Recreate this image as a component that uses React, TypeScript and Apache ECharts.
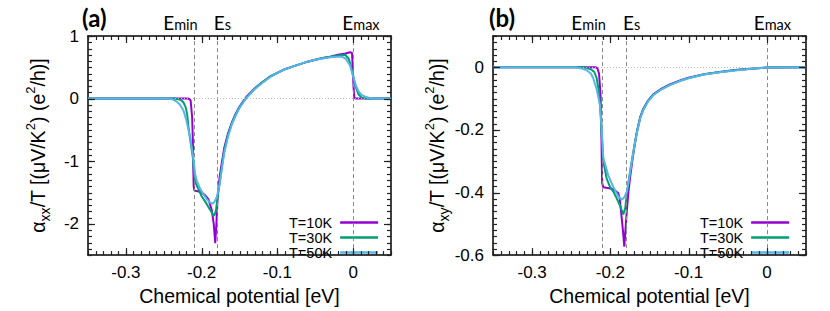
import React, { useEffect, useRef } from "react";
import * as echarts from "echarts";

const legendLabels = ["T=10K", "T=30K", "T=50K"];
const lineColors = ["#9400d3", "#009e73", "#56b4e9"];
const xTickValues = [-0.3, -0.2, -0.1, 0];
const yTickValuesA = [-2, -1, 0, 1];
const yTickValuesB = [-0.6, -0.4, -0.2, 0];
const energySubscripts = ["min", "s", "max"];
const energyLevelsA = [-0.2115, -0.1805, 0.0004];
const energyLevelsB = [-0.212, -0.1805, 0];

// panel (a): alpha_xx / T  [mu (eV), value]
const alphaXX10K: [number, number][] = [
  [-0.35, 0], [-0.2185, 0], [-0.2165, -0.005], [-0.2145, -0.03], [-0.2125, -0.3], [-0.2115, -0.7],
  [-0.211, -1.1], [-0.2105, -1.4], [-0.2095, -1.47], [-0.205, -1.48], [-0.2, -1.5], [-0.195, -1.55],
  [-0.191, -1.61], [-0.1866, -1.78], [-0.184, -2.0], [-0.182, -2.31], [-0.1805, -2.0], [-0.179, -1.6],
  [-0.1775, -1.38], [-0.1756, -1.2], [-0.173, -1.0], [-0.17, -0.78], [-0.165, -0.55], [-0.16, -0.38],
  [-0.155, -0.24], [-0.15, -0.13], [-0.145, -0.04], [-0.14, 0.04], [-0.13, 0.16], [-0.12, 0.26],
  [-0.11, 0.35], [-0.1, 0.41], [-0.09, 0.47], [-0.08, 0.51], [-0.07, 0.55], [-0.06, 0.59],
  [-0.05, 0.62], [-0.04, 0.65], [-0.03, 0.67], [-0.02, 0.7], [-0.01, 0.72], [-0.004, 0.74],
  [-0.0015, 0.73], [-0.0005, 0.5], [0.0005, 0.2], [0.0015, 0.02], [0.003, 0], [0.05, 0],
];
const alphaXX30K: [number, number][] = [
  [-0.35, 0], [-0.235, 0], [-0.228, -0.02], [-0.224, -0.06], [-0.221, -0.14], [-0.219, -0.26],
  [-0.2174, -0.45], [-0.2155, -0.62], [-0.2135, -0.78], [-0.2115, -0.95], [-0.21, -1.2], [-0.2075, -1.36],
  [-0.204, -1.45], [-0.2, -1.56], [-0.195, -1.65], [-0.191, -1.73], [-0.1866, -1.82], [-0.1844, -1.87],
  [-0.183, -1.86], [-0.181, -1.78], [-0.18, -1.68], [-0.178, -1.5], [-0.1756, -1.3], [-0.173, -1.06],
  [-0.17, -0.82], [-0.165, -0.57], [-0.16, -0.39], [-0.155, -0.25], [-0.15, -0.14], [-0.145, -0.05],
  [-0.14, 0.03], [-0.13, 0.16], [-0.12, 0.26], [-0.11, 0.35], [-0.1, 0.41], [-0.09, 0.47],
  [-0.08, 0.51], [-0.07, 0.55], [-0.06, 0.59], [-0.05, 0.62], [-0.04, 0.65], [-0.03, 0.67],
  [-0.02, 0.69], [-0.0106, 0.7], [-0.006, 0.64], [-0.003, 0.53], [0, 0.37], [0.003, 0.2],
  [0.007, 0.07], [0.011, 0.02], [0.016, 0.003], [0.02, 0], [0.05, 0],
];
const alphaXX50K: [number, number][] = [
  [-0.35, 0], [-0.245, 0], [-0.239, -0.01], [-0.234, -0.04], [-0.229, -0.09], [-0.224, -0.19],
  [-0.22, -0.35], [-0.217, -0.52], [-0.215, -0.63], [-0.2125, -0.82], [-0.2105, -1.0], [-0.2086, -1.2],
  [-0.2063, -1.32], [-0.202, -1.44], [-0.198, -1.52], [-0.193, -1.61], [-0.189, -1.66], [-0.1857, -1.68],
  [-0.183, -1.65], [-0.18, -1.57], [-0.178, -1.47], [-0.1756, -1.32], [-0.173, -1.1], [-0.17, -0.86],
  [-0.165, -0.6], [-0.16, -0.41], [-0.155, -0.27], [-0.15, -0.15], [-0.145, -0.06], [-0.14, 0.02],
  [-0.13, 0.15], [-0.12, 0.25], [-0.11, 0.34], [-0.1, 0.41], [-0.09, 0.47], [-0.08, 0.51],
  [-0.07, 0.55], [-0.06, 0.59], [-0.05, 0.62], [-0.04, 0.64], [-0.03, 0.66], [-0.02, 0.67],
  [-0.015, 0.67], [-0.01, 0.64], [-0.004, 0.53], [0, 0.35], [0.004, 0.2], [0.007, 0.12],
  [0.011, 0.06], [0.016, 0.03], [0.022, 0.01], [0.027, 0], [0.05, 0],
];

// panel (b): alpha_xy / T
const alphaXY10K: [number, number][] = [
  [-0.35, 0], [-0.2185, 0], [-0.2165, -0.004], [-0.2145, -0.02], [-0.2125, -0.09], [-0.2115, -0.2],
  [-0.211, -0.3], [-0.2105, -0.37], [-0.209, -0.383], [-0.205, -0.385], [-0.2, -0.387], [-0.195, -0.392],
  [-0.19, -0.402], [-0.188, -0.42], [-0.186, -0.47], [-0.184, -0.52], [-0.1822, -0.573], [-0.181, -0.53],
  [-0.179, -0.459], [-0.177, -0.4], [-0.175, -0.356], [-0.172, -0.3], [-0.169, -0.25], [-0.166, -0.205],
  [-0.162, -0.16], [-0.158, -0.133], [-0.152, -0.107], [-0.145, -0.086], [-0.135, -0.069], [-0.124, -0.055],
  [-0.11, -0.041], [-0.1, -0.033], [-0.08, -0.022], [-0.06, -0.015], [-0.04, -0.009], [-0.02, -0.005],
  [0, -0.001], [0.05, 0],
];
const alphaXY30K: [number, number][] = [
  [-0.35, 0], [-0.235, 0], [-0.23, -0.002], [-0.225, -0.006], [-0.2205, -0.015], [-0.2175, -0.035],
  [-0.2145, -0.08], [-0.2125, -0.15], [-0.211, -0.22], [-0.209, -0.3], [-0.2047, -0.356], [-0.2005, -0.382],
  [-0.196, -0.398], [-0.192, -0.418], [-0.188, -0.44], [-0.1835, -0.47], [-0.181, -0.45], [-0.179, -0.407],
  [-0.177, -0.37], [-0.175, -0.335], [-0.172, -0.29], [-0.169, -0.245], [-0.166, -0.205], [-0.162, -0.162],
  [-0.158, -0.135], [-0.152, -0.108], [-0.145, -0.087], [-0.135, -0.07], [-0.124, -0.056], [-0.11, -0.042],
  [-0.1, -0.034], [-0.08, -0.022], [-0.06, -0.015], [-0.04, -0.009], [-0.02, -0.005], [0, -0.001], [0.05, 0],
];
const alphaXY50K: [number, number][] = [
  [-0.35, 0], [-0.245, 0], [-0.24, -0.002], [-0.235, -0.005], [-0.23, -0.01], [-0.225, -0.02],
  [-0.222, -0.034], [-0.2175, -0.07], [-0.2133, -0.12], [-0.2115, -0.18], [-0.209, -0.29], [-0.2027, -0.345],
  [-0.1963, -0.382], [-0.19, -0.412], [-0.1856, -0.423], [-0.182, -0.415], [-0.179, -0.397], [-0.177, -0.37],
  [-0.175, -0.338], [-0.172, -0.292], [-0.169, -0.248], [-0.166, -0.208], [-0.162, -0.165], [-0.158, -0.137],
  [-0.152, -0.11], [-0.145, -0.089], [-0.135, -0.071], [-0.124, -0.057], [-0.11, -0.043], [-0.1, -0.035],
  [-0.08, -0.023], [-0.06, -0.016], [-0.04, -0.01], [-0.02, -0.005], [0, -0.001], [0.05, 0],
];

const X_MIN = -0.35;
const X_MAX = 0.05;
const FONT = '"Liberation Sans", Arial, sans-serif';
const LABEL_FONT = 'Lato, "Open Sans", sans-serif';

function steps(a: number, b: number, s: number): number[] {
  const n = Math.round((b - a) / s);
  const out: number[] = [];
  for (let i = 0; i <= n; i++) out.push(+(a + i * s).toFixed(4));
  return out;
}

const borderLine = { show: true, onZero: false, lineStyle: { color: "#000", width: 1.5 } };

function makeXAxis(grid: number) {
  return {
    type: "value", gridIndex: grid, min: X_MIN, max: X_MAX, position: "bottom",
    splitLine: { show: false }, axisLine: borderLine, axisTick: { show: false },
    axisLabel: { show: true, customValues: xTickValues, formatter: (v: number) => String(v), fontSize: 17, fontFamily: FONT, color: "#000", margin: 9 },
    name: "Chemical potential [eV]", nameLocation: "middle", nameGap: 22,
    nameTextStyle: { fontSize: 19.5, fontFamily: FONT, color: "#000", verticalAlign: "top" },
  };
}
function makeTopAxis(grid: number) {
  return {
    type: "value", gridIndex: grid, min: X_MIN, max: X_MAX, position: "top",
    splitLine: { show: false }, axisLine: borderLine, axisTick: { show: false }, axisLabel: { show: false },
  };
}

function makeYAxis(grid: number, min: number, max: number, major: number[], sub: string) {
  const nameRich = {
    a: { fontSize: 19.5, fontFamily: FONT, color: "#000", lineHeight: 28 },
    sub: { fontSize: 14, fontFamily: FONT, color: "#000", lineHeight: 14, verticalAlign: "bottom" },
    sup: { fontSize: 13, fontFamily: FONT, color: "#000", lineHeight: 13, verticalAlign: "top" },
  };
  return {
    type: "value", gridIndex: grid, min, max, position: "left",
    splitLine: { show: false }, axisLine: borderLine, axisTick: { show: false },
    axisLabel: { show: true, customValues: major, formatter: (v: number) => String(v), fontSize: 17, fontFamily: FONT, color: "#000", margin: 9 },
    name: `{a|α}{sub|${sub}}{a|/T [(μV/K}{sup|2}{a|) (e}{sup|2}{a|/h)]}`,
    nameLocation: "middle", nameRotate: 90, nameGap: 36,
    nameTextStyle: { fontSize: 19.5, fontFamily: FONT, color: "#000", rich: nameRich },
  };
}
function makeRightAxis(grid: number, min: number, max: number) {
  return {
    type: "value", gridIndex: grid, min, max, position: "right",
    splitLine: { show: false }, axisLine: borderLine, axisTick: { show: false }, axisLabel: { show: false },
  };
}

function guideSeries(xIdx: number, yIdx: number, levels: number[], name: string) {
  return {
    name, type: "line", xAxisIndex: xIdx, yAxisIndex: yIdx, data: [], silent: true, z: 1,
    markLine: {
      silent: true, symbol: ["none", "none"], label: { show: false }, animation: false,
      lineStyle: { color: "#888", width: 1, type: [4, 3] },
      data: [
        ...levels.map((v) => ({ xAxis: v })),
        { yAxis: 0, lineStyle: { color: "#bbb", width: 1, type: [1, 2] } },
      ],
    },
  };
}

function curveSeries(xIdx: number, yIdx: number, sets: [number, number][][]) {
  return sets.map((d, i) => ({
    name: legendLabels[i], type: "line", xAxisIndex: xIdx, yAxisIndex: yIdx,
    data: d, showSymbol: false, symbol: "none", z: 3 + i,
    lineStyle: { color: lineColors[i], width: 2 }, itemStyle: { color: lineColors[i] },
  }));
}

function legendAt(left: number, top: number) {
  return {
    data: legendLabels, orient: "vertical", left, top, align: "right", icon: "rect",
    itemWidth: 38, itemHeight: 2.5, itemGap: 0, padding: 0, selectedMode: false,
    textStyle: { fontSize: 14.5, fontFamily: FONT, color: "#000", lineHeight: 13.8, padding: [0, 3, 0, 0] },
  };
}

export default function App() {
  const ref = useRef<HTMLDivElement>(null);
  useEffect(() => {
    if (!ref.current) return;
    const chart = echarts.init(ref.current, undefined, { renderer: "svg" });
    const option: any = {
      animation: false,
      backgroundColor: "#fff",
      grid: [
        { left: 88, top: 36, width: 303, height: 226, show: false },
        { left: 493, top: 36, width: 313, height: 226, show: false },
      ],
      xAxis: [makeXAxis(0), makeTopAxis(0), makeXAxis(1), makeTopAxis(1)],
      yAxis: [
        makeYAxis(0, -2.5, 1, yTickValuesA, "xx"), makeRightAxis(0, -2.5, 1),
        makeYAxis(1, -0.6, 0.1, yTickValuesB, "xy"), makeRightAxis(1, -0.6, 0.1),
      ],
      legend: [legendAt(289, 215), legendAt(700, 215)],
      series: [
        guideSeries(0, 0, energyLevelsA, "guides-a"),
        ...curveSeries(0, 0, [alphaXX10K, alphaXX30K, alphaXX50K]),
        guideSeries(2, 2, energyLevelsB, "guides-b"),
        ...curveSeries(2, 2, [alphaXY10K, alphaXY30K, alphaXY50K]),
      ],
    };
    chart.setOption(option);

    const elements: any[] = [];
    const tickStyle = { stroke: "#222", lineWidth: 1.2, fill: null };
    // gnuplot-style mirrored inward ticks, placed through the series' coordinate system
    const addTicks = (seriesIndex: number, yMin: number, yMax: number, yMajor: number[], yMinorStep: number) => {
      const toPx = (x: number, y: number) => chart.convertToPixel({ seriesIndex }, [x, y]) as number[];
      const [left, bottom] = toPx(X_MIN, yMin);
      const [right, top] = toPx(X_MAX, yMax);
      const xTicks = [...xTickValues.map((v) => [v, 7]), ...steps(X_MIN, X_MAX, 0.01).map((v) => [v, 4])];
      const yTicks = [...yMajor.map((v) => [v, 7]), ...steps(yMin, yMax, yMinorStep).map((v) => [v, 4])];
      xTicks.forEach(([v, len]) => {
        const x = Math.round(toPx(v, yMin)[0]) + 0.5;
        elements.push({ type: "line", z: 50, shape: { x1: x, y1: bottom, x2: x, y2: bottom - len }, style: tickStyle });
        elements.push({ type: "line", z: 50, shape: { x1: x, y1: top, x2: x, y2: top + len }, style: tickStyle });
      });
      yTicks.forEach(([v, len]) => {
        const y = Math.round(toPx(X_MIN, v)[1]) + 0.5;
        elements.push({ type: "line", z: 50, shape: { x1: left, y1: y, x2: left + len, y2: y }, style: tickStyle });
        elements.push({ type: "line", z: 50, shape: { x1: right, y1: y, x2: right - len, y2: y }, style: tickStyle });
      });
    };
    addTicks(1, -2.5, 1, yTickValuesA, 0.1);
    addTicks(5, -0.6, 0.1, yTickValuesB, 0.02);

    const offsetsA = [-12.5, 6, 7.5];
    const offsetsB = [-12.5, 6, 5.5];
    const eRich = {
      e: { fontSize: 19, fontFamily: LABEL_FONT, color: "#000", lineHeight: 22, verticalAlign: "bottom" },
      s: { fontSize: 14.5, fontFamily: LABEL_FONT, color: "#000", lineHeight: 14, verticalAlign: "bottom" },
    };
    const addLabels = (axisIndex: number, levels: number[], offs: number[]) => {
      levels.forEach((v, i) => {
        const px = chart.convertToPixel({ xAxisIndex: axisIndex }, v) as number;
        elements.push({
          type: "text", x: px + offs[i], y: 32,
          style: {
            text: `{e|E}{s|${energySubscripts[i]}}`, rich: eRich,
            align: "center", verticalAlign: "bottom", textAlign: "center", textVerticalAlign: "bottom",
          },
        });
      });
    };
    addLabels(0, energyLevelsA, offsetsA);
    addLabels(2, energyLevelsB, offsetsB);
    const titleStyle = { fontSize: 24, fontWeight: "bold", fontFamily: LABEL_FONT, fill: "#000" };
    elements.push({ type: "text", left: 82, top: 5, style: { text: "(a)", ...titleStyle, font: `bold 24px ${LABEL_FONT}` } });
    elements.push({ type: "text", left: 489, top: 5, style: { text: "(b)", ...titleStyle, font: `bold 24px ${LABEL_FONT}` } });
    chart.setOption({ graphic: elements });

    return () => chart.dispose();
  }, []);
  return <div ref={ref} style={{ position: "absolute", left: 0, top: 0, width: 830, height: 311 }} />;
}
